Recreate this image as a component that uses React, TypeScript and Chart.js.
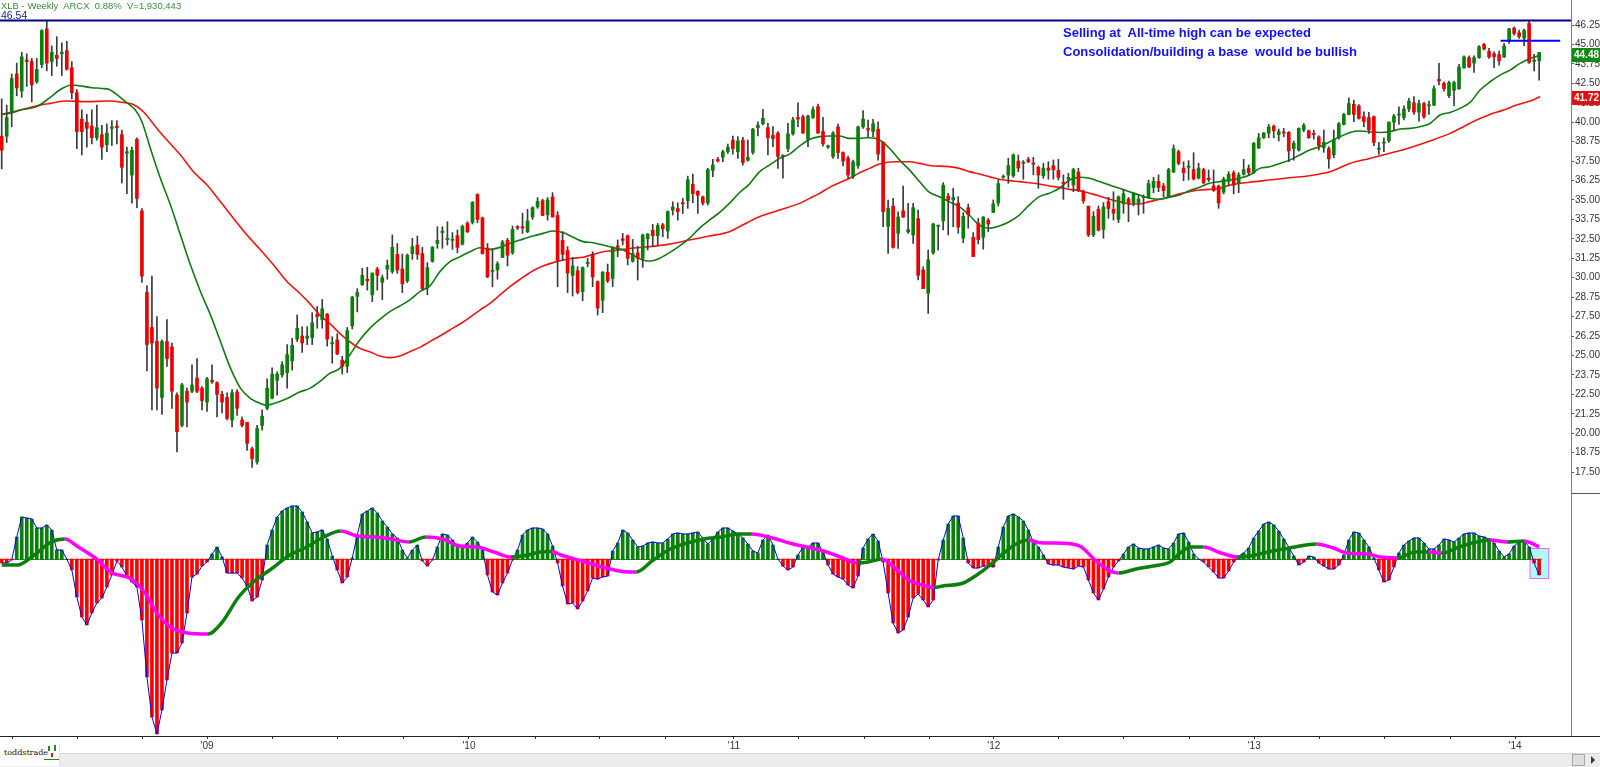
import React, { useEffect, useRef } from 'react';
import { Chart, registerables } from 'chart.js';

Chart.register(...registerables);

// ---------- Weekly OHLC (one entry per week, oldest first) ----------
const OPEN = [
  39.1, 39.1, 40.7, 43.1, 42.0, 44.0, 43.9, 42.6, 43.7, 46.0,
  43.9, 44.3, 44.4, 44.6, 43.5, 41.9, 40.2, 40.0, 39.75, 39.0,
  39.2, 38.55, 39.6, 39.75, 39.2, 38.0, 36.6, 38.9, 34.3, 29.05,
  26.8, 25.9, 22.3, 25.9, 25.55, 22.45, 20.5, 22.7, 22.7, 23.55,
  22.9, 22.0, 23.4, 23.25, 22.5, 22.3, 20.85, 22.65, 20.85, 20.7,
  19.0, 18.15, 20.5, 21.6, 22.25, 23.4, 23.75, 23.9, 24.65, 26.05,
  26.25, 26.1, 26.15, 27.65, 27.3, 27.65, 25.75, 26.0, 24.7, 24.3,
  26.9, 28.8, 29.55, 29.9, 28.9, 30.55, 29.7, 30.55, 30.4, 31.5,
  30.55, 29.8, 31.55, 32.1, 31.55, 29.35, 31.05, 32.2, 32.9, 32.45,
  32.4, 32.7, 32.15, 33.5, 33.55, 35.35, 33.85, 31.9, 30.4, 30.5,
  31.3, 32.4, 31.6, 33.25, 33.25, 32.95, 33.9, 34.55, 34.95, 34.05,
  35.2, 34.0, 32.4, 31.75, 30.15, 30.45, 29.1, 30.9, 31.45, 29.75,
  28.55, 30.35, 29.95, 32.05, 32.5, 32.7, 31.05, 31.6, 31.25, 32.5,
  33.05, 32.7, 33.4, 33.0, 34.35, 34.45, 34.8, 34.95, 36.0, 35.55,
  35.2, 34.8, 36.9, 37.6, 37.75, 38.1, 38.85, 38.1, 38.85, 37.55,
  38.05, 39.65, 39.9, 39.65, 39.15, 39.3, 37.8, 38.3, 39.25, 40.3,
  40.35, 38.9, 40.3, 41.0, 39.4, 38.4, 37.8, 39.7, 38.05, 37.7,
  36.5, 37.2, 39.7, 39.6, 39.4, 39.55, 38.7, 33.3, 34.6, 32.85,
  34.3, 32.95, 32.75, 33.8, 30.5, 29.0, 31.6, 33.3, 33.65, 35.25,
  35.0, 34.8, 32.55, 34.5, 32.6, 33.5, 32.6, 33.7, 34.2, 34.8,
  36.45, 36.6, 36.55, 37.5, 37.35, 37.6, 37.35, 37.1, 36.55, 37.05,
  37.2, 36.9, 36.1, 36.35, 35.95, 36.8, 35.55, 34.6, 32.75, 34.4,
  33.1, 34.9, 34.4, 33.75, 34.75, 35.05, 34.8, 34.8, 35.15, 35.15,
  35.8, 36.2, 35.9, 35.2, 36.8, 38.1, 37.05, 37.1, 36.95, 36.4,
  36.95, 36.4, 35.9, 35.9, 35.5, 36.2, 36.75, 36.05, 36.65, 37.05,
  36.75, 38.35, 39.0, 39.3, 39.75, 39.2, 39.35, 39.35, 38.3, 38.2,
  39.5, 39.45, 39.25, 39.05, 38.35, 38.3, 37.9, 39.0, 39.85, 40.5,
  41.15, 41.05, 40.35, 40.3, 40.35, 38.25, 38.65, 38.8, 40.0, 40.45,
  40.3, 40.85, 41.25, 40.65, 41.2, 41.05, 41.1, 42.75, 42.5, 41.7,
  42.05, 42.15, 43.5, 44.15, 43.8, 44.15, 45.0, 44.55, 44.4, 44.35,
  44.2, 45.2, 46.05, 45.75, 45.4, 46.35, 43.9, 43.95,
];
const HIGH = [
  41.5, 41.1, 43.1, 43.8, 44.5, 44.4, 44.1, 44.1, 45.95, 46.5,
  44.9, 45.5, 45.1, 45.2, 43.9, 42.1, 40.8, 40.5, 40.8, 41.1,
  39.8, 39.9, 40.1, 40.1, 39.5, 38.4, 38.4, 39.0, 34.45, 29.5,
  30.1, 27.5, 26.0, 27.3, 25.8, 22.6, 23.2, 22.9, 24.4, 24.8,
  23.0, 23.6, 24.4, 23.3, 22.7, 22.6, 22.8, 22.8, 21.05, 20.7,
  19.1, 20.5, 21.5, 23.5, 24.2, 23.95, 24.6, 25.7, 26.1, 27.6,
  26.85, 26.85, 27.75, 28.15, 28.6, 27.7, 26.2, 26.4, 24.95, 26.8,
  28.8, 29.3, 30.6, 30.67, 30.3, 30.67, 30.17, 31.14, 32.75, 32.2,
  31.52, 31.52, 32.53, 32.68, 31.95, 30.97, 32.0, 33.28, 33.28, 33.6,
  32.9, 33.07, 33.39, 33.6, 34.9, 35.4, 33.9, 32.2, 31.82, 31.03,
  32.4, 32.53, 33.32, 33.35, 34.15, 34.4, 34.57, 35.15, 35.04, 35.15,
  35.47, 34.25, 32.96, 32.0, 31.31, 30.71, 30.7, 31.24, 31.67, 29.8,
  30.4, 30.88, 32.0, 32.43, 32.85, 32.75, 32.46, 32.03, 32.8, 32.85,
  33.43, 33.49, 33.49, 34.3, 34.88, 34.82, 35.1, 36.53, 36.66, 35.6,
  35.25, 37.03, 37.61, 37.74, 38.21, 38.59, 39.11, 39.07, 39.02, 38.85,
  39.6, 40.03, 40.82, 39.92, 39.71, 39.39, 37.9, 39.92, 40.31, 41.25,
  40.46, 40.46, 40.99, 41.17, 40.31, 38.53, 39.39, 39.88, 38.1, 37.82,
  37.56, 39.75, 40.74, 40.14, 40.18, 40.03, 38.74, 34.99, 35.1, 34.24,
  35.89, 34.78, 34.78, 34.35, 30.7, 31.78, 33.5, 33.39, 36.11, 35.43,
  35.75, 35.21, 34.18, 34.74, 32.9, 33.82, 33.93, 33.82, 35.0, 36.28,
  36.61, 37.68, 37.96, 37.89, 37.53, 37.74, 37.74, 37.19, 37.36, 37.46,
  37.57, 37.61, 36.61, 36.71, 37.04, 37.04, 35.64, 34.61, 34.25, 34.61,
  34.83, 35.17, 35.53, 35.26, 35.68, 35.17, 35.45, 35.32, 35.32, 36.28,
  36.46, 36.61, 36.07, 37.04, 38.54, 38.21, 37.46, 37.53, 38.04, 37.36,
  37.04, 36.93, 36.93, 35.96, 36.46, 36.82, 36.88, 36.76, 37.61, 37.25,
  38.7, 39.28, 39.34, 39.86, 39.82, 39.56, 39.6, 39.4, 38.79, 39.64,
  39.92, 39.49, 39.49, 39.13, 39.49, 38.42, 39.49, 39.99, 40.57, 41.57,
  41.42, 41.14, 40.67, 40.63, 40.41, 38.7, 39.0, 40.03, 40.5, 40.99,
  41.06, 41.53, 41.64, 41.42, 41.27, 41.36, 42.34, 43.78, 42.6, 42.64,
  42.64, 43.72, 44.27, 44.27, 44.27, 44.92, 45.07, 44.75, 44.53, 44.57,
  45.07, 46.03, 46.14, 45.92, 45.99, 46.54, 44.36, 44.49,
];
const LOW = [
  37.0, 38.7, 39.7, 41.7, 41.6, 42.3, 41.3, 42.5, 43.5, 43.3,
  43.0, 43.6, 43.0, 43.35, 41.5, 38.3, 37.9, 38.4, 38.6, 38.85,
  37.6, 38.1, 38.5, 38.6, 36.1, 35.4, 34.8, 34.5, 29.7, 24.0,
  21.5, 21.5, 21.2, 24.3, 21.6, 18.8, 20.4, 20.4, 22.6, 22.6,
  21.5, 21.4, 23.2, 21.05, 21.3, 20.85, 20.4, 21.15, 20.4, 18.9,
  17.8, 18.0, 20.2, 21.5, 22.2, 22.45, 23.6, 22.9, 24.05, 25.9,
  25.2, 25.7, 25.7, 26.75, 26.75, 25.6, 24.5, 25.05, 23.8, 23.9,
  26.7, 27.8, 29.5, 29.2, 28.46, 29.2, 28.6, 29.9, 30.28, 30.28,
  29.04, 29.68, 31.18, 31.18, 29.17, 28.9, 31.0, 31.89, 31.89, 32.1,
  31.82, 31.6, 32.1, 32.9, 33.45, 33.54, 31.52, 30.0, 29.42, 29.9,
  31.3, 30.75, 31.5, 33.1, 32.85, 32.9, 33.75, 34.46, 34.0, 33.7,
  33.9, 29.42, 31.1, 29.04, 28.82, 28.95, 28.52, 30.7, 29.42, 27.6,
  27.75, 29.68, 29.42, 31.35, 32.1, 30.82, 31.0, 29.85, 30.66, 31.78,
  31.99, 32.1, 32.63, 32.53, 34.03, 33.7, 34.13, 34.46, 34.82, 34.13,
  34.67, 34.67, 36.49, 37.45, 37.46, 37.99, 37.95, 37.67, 37.24, 37.5,
  37.95, 39.11, 39.82, 37.89, 38.42, 37.03, 36.4, 38.1, 39.17, 39.71,
  39.28, 38.42, 40.24, 39.28, 38.46, 38.31, 37.67, 37.67, 37.18, 36.39,
  36.39, 37.03, 39.6, 39.07, 39.07, 37.56, 33.28, 31.56, 31.9, 31.88,
  33.88, 32.85, 32.2, 29.85, 29.3, 27.7, 31.5, 31.78, 33.07, 32.75,
  33.28, 32.85, 32.25, 33.18, 31.35, 32.17, 31.83, 32.96, 34.18, 34.61,
  36.39, 36.07, 36.46, 36.82, 36.33, 37.4, 36.61, 35.75, 36.39, 36.33,
  36.33, 36.28, 35.04, 35.81, 35.53, 35.53, 34.78, 32.64, 32.64, 33.0,
  32.53, 33.82, 33.71, 33.54, 34.14, 33.6, 34.61, 34.03, 34.14, 35.11,
  35.47, 35.53, 35.21, 35.17, 36.75, 37.25, 36.24, 36.28, 36.28, 36.35,
  36.03, 36.18, 35.55, 34.46, 35.39, 35.9, 35.39, 35.47, 36.6, 36.61,
  36.7, 38.3, 38.95, 39.0, 39.0, 38.79, 39.06, 37.46, 37.56, 38.14,
  39.39, 38.96, 38.91, 38.21, 38.06, 37.03, 37.71, 38.91, 39.82, 40.46,
  40.03, 40.2, 39.71, 39.28, 38.49, 37.93, 38.1, 38.7, 39.49, 39.86,
  40.14, 40.67, 40.5, 40.07, 40.24, 40.5, 41.06, 42.39, 42.0, 41.57,
  41.06, 42.1, 43.46, 43.5, 43.2, 44.1, 44.64, 44.1, 43.5, 43.67,
  44.15, 45.07, 45.6, 45.39, 44.92, 43.78, 43.29, 42.71,
];
const CLOSE = [
  38.2, 40.3, 42.8, 42.2, 44.2, 43.9, 42.4, 43.4, 45.9, 43.8,
  44.5, 44.1, 44.5, 43.4, 41.9, 39.4, 39.4, 39.6, 39.0, 39.65,
  38.4, 39.3, 39.7, 39.65, 37.1, 38.1, 38.2, 35.1, 30.1, 25.7,
  25.8, 22.9, 25.9, 24.8, 22.7, 20.1, 23.1, 22.0, 23.1, 22.7,
  22.1, 23.5, 23.3, 22.5, 22.0, 20.95, 22.6, 21.6, 20.5, 19.35,
  18.35, 20.3, 21.1, 22.9, 23.8, 23.8, 24.4, 25.05, 25.65, 26.75,
  25.8, 26.25, 27.1, 27.5, 28.0, 26.05, 25.8, 25.1, 24.3, 26.6,
  28.75, 29.05, 30.15, 29.8, 30.3, 30.15, 30.0, 30.8, 31.95, 30.5,
  29.6, 31.45, 32.0, 31.5, 29.3, 30.65, 31.95, 32.4, 33.0, 32.5,
  32.45, 31.95, 33.3, 32.95, 34.85, 33.75, 31.55, 30.05, 30.45, 30.9,
  32.3, 31.45, 33.1, 33.2, 33.2, 33.65, 34.5, 34.9, 34.0, 35.0,
  33.9, 31.1, 31.5, 30.3, 30.75, 29.05, 30.65, 30.95, 30.05, 28.05,
  30.35, 29.8, 31.95, 31.95, 32.4, 31.25, 31.55, 31.25, 32.75, 32.8,
  32.7, 33.35, 33.15, 34.25, 34.55, 34.25, 34.75, 36.3, 35.4, 35.3,
  34.8, 36.95, 37.25, 37.5, 38.1, 38.4, 38.3, 38.8, 37.4, 37.75,
  39.55, 39.8, 40.25, 39.0, 38.95, 37.8, 37.85, 39.25, 40.15, 40.2,
  39.3, 40.4, 40.8, 39.3, 38.6, 38.45, 39.3, 38.05, 37.5, 36.6,
  37.45, 39.7, 40.2, 39.5, 39.9, 37.95, 34.25, 34.45, 31.95, 33.9,
  33.9, 33.1, 34.5, 30.15, 29.3, 31.15, 33.45, 33.35, 35.95, 35.0,
  35.15, 33.25, 33.95, 34.05, 31.35, 32.45, 33.9, 33.45, 34.75, 36.05,
  36.5, 37.2, 37.9, 37.05, 37.4, 37.45, 37.3, 36.6, 37.05, 36.9,
  36.95, 36.45, 36.05, 36.45, 36.95, 35.6, 34.95, 32.75, 33.95, 33.05,
  34.55, 34.45, 34.15, 35.2, 35.4, 34.75, 35.4, 35.05, 35.2, 36.05,
  36.2, 35.8, 35.6, 36.95, 38.3, 37.35, 36.75, 37.15, 36.35, 37.05,
  36.1, 36.3, 35.6, 34.8, 36.35, 36.65, 35.95, 36.6, 36.95, 36.75,
  38.65, 39.0, 39.3, 39.7, 39.45, 39.4, 39.3, 38.15, 38.65, 39.6,
  39.8, 39.0, 39.2, 38.5, 38.7, 37.65, 38.9, 39.9, 40.5, 41.2,
  40.5, 40.25, 40.05, 39.5, 38.7, 38.3, 38.7, 40.0, 40.4, 40.5,
  40.85, 41.35, 40.65, 41.2, 40.35, 41.1, 42.15, 42.65, 42.15, 42.55,
  42.55, 43.55, 44.2, 43.55, 44.15, 44.85, 44.7, 44.2, 44.2, 43.95,
  44.9, 46.0, 45.7, 45.5, 45.9, 43.85, 44.0, 44.48,
];

// ---------- Moving averages: [week index, price] ----------
const MA_FAST = [
  [0, 40.5], [2, 40.6], [4, 40.8], [7, 41.0], [9.7, 41.6], [11.7, 42.1], [14, 42.39], [16, 42.32],
  [18, 42.22], [20, 42.17], [21.5, 42.1], [22.7, 41.85], [24.7, 41.32], [26.7, 40.78], [28, 40.03],
  [29.7, 38.31], [31.7, 36.38], [33.7, 34.67], [35.7, 32.74], [37.7, 30.81], [39.7, 29.1], [41.7, 27.59],
  [43.7, 25.88], [45.7, 24.17], [47.7, 22.88], [49.7, 22.23], [51.7, 21.91], [53, 21.8], [55, 21.98],
  [57, 22.23], [59.6, 22.66], [61.5, 22.88], [63.5, 23.31], [65.5, 23.85], [67.5, 24.17], [69.5, 25.03],
  [71.5, 25.99], [73.5, 26.74], [75.5, 27.32], [77.5, 27.82], [79.5, 28.18], [81.5, 28.57], [83.5, 29.1],
  [85.5, 29.47], [87.5, 30.39], [89.5, 31.03], [91.5, 31.35], [93.5, 31.67], [95.5, 31.93], [97.5, 31.82],
  [99.5, 31.95], [101.5, 32.21], [103.5, 32.42], [106.1, 32.68], [108.1, 32.85], [110.1, 33.0], [112.1, 32.9],
  [114.1, 32.6], [116.1, 32.32], [118.1, 32.25], [120.1, 32.1], [122.1, 31.93], [124, 31.8], [125.5, 31.55],
  [127.3, 31.24], [129.3, 31.07], [131.3, 31.24], [133.3, 31.6], [135.3, 32.03], [137.3, 32.53], [139.3, 33.17],
  [141.3, 33.7], [143.3, 34.18], [145.3, 34.78], [147.3, 35.46], [149.3, 36.02], [151.3, 36.81], [153.3, 37.24],
  [155.3, 37.67], [157.3, 37.95], [159.3, 38.46], [161.3, 38.89], [163.3, 39.07], [165.3, 39.11], [167.3, 39.11],
  [169.3, 38.96], [171.3, 38.96], [173.3, 39.0], [175.3, 38.85], [177.3, 38.31], [179.3, 37.56], [181.3, 36.92],
  [183.3, 36.17], [185.2, 35.5], [187.2, 35.21], [189.2, 34.89], [191.2, 34.57], [193.2, 34.03], [195.2, 33.39],
  [197.2, 33.18], [199.2, 33.33], [201.2, 33.6], [203.2, 34.03], [205.2, 34.68], [207.2, 35.21], [209.2, 35.43],
  [211.2, 35.75], [213.2, 36.28], [215.2, 36.46], [217.2, 36.39], [219.2, 36.18], [221.2, 35.96], [223.2, 35.75],
  [225.2, 35.53], [227.2, 35.32], [229.2, 35.11], [231.2, 35.04], [233.2, 35.17], [235.2, 35.32], [237.2, 35.6],
  [239.2, 35.81], [241.2, 36.07], [243.2, 36.18], [245.2, 36.28], [247.2, 36.4], [249.2, 36.6], [251.2, 37.03],
  [253.2, 37.13], [255.2, 37.35], [257.2, 37.56], [259.2, 37.89], [261.2, 38.21], [263.2, 38.42], [265.2, 38.74],
  [267.2, 39.06], [269.2, 39.34], [271.2, 39.43], [273.2, 39.39], [275.2, 39.34], [277.2, 39.39], [279.2, 39.56],
  [281.2, 39.6], [283.2, 39.71], [285.2, 39.92], [287.2, 40.46], [289.2, 40.63], [291.2, 40.89], [293.2, 41.27],
  [295.2, 42.07], [297.2, 42.6], [299.2, 43.03], [301.2, 43.35], [303.2, 43.78], [305.2, 44.1], [307, 44.28],
];
const MA_SLOW = [
  [0, 40.5], [3.7, 40.78], [7, 41.06], [9.7, 41.21], [13, 41.36], [17, 41.32], [21, 41.36], [24.3, 41.27],
  [26.3, 41.14], [28.3, 40.67], [31, 39.6], [33, 38.85], [35.7, 37.89], [38.3, 36.81], [41, 35.96], [43.7, 34.88],
  [46.3, 33.81], [49, 32.74], [51.7, 31.78], [54.3, 30.81], [57, 29.74], [59.5, 29.0], [61.5, 28.35], [63.5, 27.6],
  [65.5, 27.06], [67.5, 26.42], [69.5, 25.88], [71.5, 25.46], [73.5, 25.24], [75.5, 24.96], [77.5, 24.86],
  [79.5, 24.96], [81.5, 25.24], [83.5, 25.52], [85.5, 25.89], [87.5, 26.25], [89.5, 26.64], [91.5, 27.02],
  [93.5, 27.45], [95.5, 27.92], [97.5, 28.35], [99.5, 28.89], [101.5, 29.42], [103.5, 29.9], [106.1, 30.45],
  [108.1, 30.75], [110.1, 30.97], [112.1, 31.14], [114.1, 31.25], [116.1, 31.31], [118.1, 31.5], [120.1, 31.67],
  [122.1, 31.74], [124.1, 31.82], [125.3, 31.88], [129.3, 31.99], [133.3, 32.16], [137.3, 32.42], [141.3, 32.68],
  [145.3, 32.96], [147.3, 33.28], [151.3, 33.92], [155.3, 34.35], [159.3, 34.78], [161.3, 35.1], [163.3, 35.42],
  [165.3, 35.81], [167.3, 36.11], [169.3, 36.39], [171.3, 36.75], [173.3, 37.03], [175.3, 37.31], [177.3, 37.44],
  [179.3, 37.46], [181.3, 37.46], [183.3, 37.35], [185.3, 37.22], [189.2, 37.14], [191.2, 37.03], [193.2, 36.82],
  [195.2, 36.67], [197.2, 36.5], [199.2, 36.33], [201.2, 36.24], [203.2, 36.18], [205.2, 36.11], [207.2, 36.03],
  [209.2, 35.9], [211.2, 35.81], [213.2, 35.68], [215.2, 35.6], [217.2, 35.43], [219.2, 35.26], [221.2, 35.04],
  [223.2, 34.89], [225.2, 34.74], [227.2, 34.74], [229.2, 34.89], [231.2, 35.04], [233.2, 35.21], [235.2, 35.39],
  [237.2, 35.53], [239.2, 35.64], [241.2, 35.68], [243.2, 35.75], [245.2, 35.95], [249.2, 36.14], [253.2, 36.28],
  [257.2, 36.43], [261.2, 36.56], [265.2, 36.81], [267.2, 37.07], [269.2, 37.35], [273.2, 37.67], [277.2, 38.0],
  [281.2, 38.36], [285.2, 38.79], [289.2, 39.28], [291.9, 39.71], [294.5, 40.14], [297.2, 40.5], [299.9, 40.78],
  [302.5, 41.1], [305.2, 41.36], [307.2, 41.64],
];

// ---------- Oscillator (lower pane): histogram per week, signal line [week, value] ----------
const HIST = [
  -0.04, -0.04, -0.01, 0.22, 0.42, 0.41, 0.40, 0.31, 0.31, 0.34,
  0.29, 0.09, 0.09, 0.0, -0.11, -0.38, -0.58, -0.66, -0.54, -0.44,
  -0.39, -0.28, -0.16, -0.02, -0.08, -0.17, -0.23, -0.28, -0.61, -1.18,
  -1.58, -1.75, -1.51, -1.21, -0.94, -0.94, -0.84, -0.54, -0.18, -0.15,
  -0.07, -0.03, 0.05, 0.12, 0.02, -0.14, -0.14, -0.14, -0.19, -0.27,
  -0.42, -0.38, -0.21, 0.14, 0.29, 0.42, 0.48, 0.51, 0.53, 0.53,
  0.47, 0.37, 0.26, 0.27, 0.29, 0.20, 0.03, -0.11, -0.24, -0.18,
  0.01, 0.24, 0.45, 0.48, 0.51, 0.46, 0.38, 0.32, 0.25, 0.21,
  0.09, 0.01, 0.09, 0.14, -0.02, -0.07, -0.01, 0.12, 0.25, 0.24,
  0.19, 0.13, 0.12, 0.16, 0.22, 0.17, 0.09, -0.16, -0.33, -0.36,
  -0.24, -0.14, -0.01, 0.09, 0.24, 0.29, 0.31, 0.31, 0.30, 0.25,
  0.13, -0.04, -0.27, -0.45, -0.44, -0.50, -0.42, -0.32, -0.19, -0.20,
  -0.18, -0.17, 0.08, 0.16, 0.29, 0.26, 0.19, 0.12, 0.13, 0.16,
  0.17, 0.16, 0.16, 0.20, 0.25, 0.26, 0.25, 0.25, 0.26, 0.27,
  0.21, 0.15, 0.20, 0.27, 0.31, 0.31, 0.28, 0.25, 0.21, 0.15,
  0.08, 0.06, 0.19, 0.24, 0.14, 0.0, -0.07, -0.11, -0.08, 0.04,
  0.12, 0.12, 0.16, 0.16, 0.07, -0.06, -0.15, -0.18, -0.20, -0.26,
  -0.29, -0.17, 0.11, 0.20, 0.25, 0.18, -0.03, -0.34, -0.64, -0.74,
  -0.71, -0.58, -0.39, -0.35, -0.41, -0.48, -0.41, -0.01, 0.19, 0.35,
  0.43, 0.43, 0.21, -0.04, -0.09, -0.09, -0.07, -0.07, -0.08, 0.12,
  0.32, 0.43, 0.45, 0.42, 0.38, 0.29, 0.17, 0.12, 0.04, -0.05,
  -0.06, -0.06, -0.08, -0.09, -0.10, -0.07, -0.08, -0.21, -0.34, -0.41,
  -0.30, -0.18, -0.08, -0.02, 0.05, 0.12, 0.15, 0.11, 0.10, 0.10,
  0.12, 0.14, 0.11, 0.10, 0.16, 0.25, 0.26, 0.17, 0.05, 0.0,
  -0.03, -0.08, -0.13, -0.19, -0.19, -0.12, -0.03, 0.03, 0.06, 0.11,
  0.21, 0.28, 0.35, 0.37, 0.34, 0.28, 0.20, 0.12, 0.03, -0.06,
  -0.03, 0.03, 0.02, -0.04, -0.07, -0.10, -0.10, -0.06, 0.04, 0.19,
  0.27, 0.26, 0.19, 0.12, 0.01, -0.11, -0.23, -0.21, -0.08, 0.06,
  0.14, 0.18, 0.21, 0.21, 0.16, 0.10, 0.10, 0.14, 0.20, 0.19,
  0.17, 0.21, 0.25, 0.26, 0.26, 0.23, 0.22, 0.20, 0.16, 0.08,
  0.02, 0.05, 0.13, 0.17, 0.18, 0.12, -0.04, -0.16,
];
const SIGNAL = [
  [0, -0.06], [3.1, -0.06], [6.5, 0.04], [9.9, 0.17], [12.6, 0.2], [15.3, 0.12], [18.7, 0.01], [22.1, -0.14],
  [25.5, -0.19], [28.2, -0.31], [31, -0.54], [33.7, -0.68], [37.1, -0.74], [41.2, -0.75], [43.9, -0.64],
  [47.3, -0.38], [50, -0.24], [54.1, -0.09], [57.5, 0.04], [60.9, 0.12], [64.3, 0.22], [67.7, 0.28],
  [71.1, 0.23], [74.5, 0.22], [77.9, 0.2], [81.3, 0.17], [84.7, 0.22], [88.1, 0.2], [91.5, 0.13], [94.9, 0.12],
  [98.3, 0.07], [101.7, 0.02], [105.1, 0.04], [107.5, 0.07], [109.8, 0.075], [111.7, 0.04], [116.5, -0.03],
  [119.9, -0.08], [123.9, -0.125], [126.7, -0.13], [130.1, -0.01], [133.5, 0.1], [136.9, 0.16], [140.3, 0.2],
  [143.7, 0.22], [147.1, 0.25], [149.8, 0.25], [153.9, 0.21], [157.3, 0.16], [160.7, 0.12], [164.1, 0.08],
  [167.5, 0.02], [170.9, -0.04], [173, -0.03], [175.7, 0.0], [178.4, -0.09], [181.1, -0.21], [184.5, -0.27],
  [186.2, -0.285], [187.9, -0.27], [192, -0.24], [194.7, -0.16], [197.4, -0.06], [200.1, 0.06], [202.9, 0.16],
  [205, 0.19], [207, 0.165], [209.7, 0.16], [212.9, 0.155], [215.6, 0.12], [218.3, -0.01], [221, -0.11],
  [223, -0.14], [226.5, -0.1], [229.9, -0.07], [233.3, -0.03], [235.3, 0.06], [237.4, 0.12], [240, 0.12],
  [243.5, 0.06], [246.9, 0.02], [250.3, 0.04], [253.7, 0.08], [257.1, 0.11], [260.5, 0.14], [262.5, 0.15],
  [265.9, 0.11], [268.6, 0.06], [272.7, 0.05], [275.4, 0.02], [278.8, 0.01], [282.2, 0.07], [284.9, 0.07],
  [287.6, 0.06], [291, 0.12], [294.5, 0.17], [297.2, 0.19], [300.6, 0.17], [304, 0.18], [305.4, 0.16], [307, 0.12],
];

// ---------- Axis labels and annotation values ----------
const PRICE_TICKS = [
  17.5, 18.75, 20.0, 21.25, 22.5, 23.75, 25.0, 26.25, 27.5, 28.75, 30.0, 31.25,
  32.5, 33.75, 35.0, 36.25, 37.5, 38.75, 40.0, 41.25, 42.5, 43.75, 45.0, 46.25,
];
const YEAR_LABELS = ["'09", "'10", "'11", "'12", "'13", "'14"];
const YEAR_WEEKS = [41.0, 93.3, 146.2, 198.1, 250.1, 302.2];
const QUARTER_WEEKS = [
  2.2, 15.2, 28.2, 54.1, 67.1, 80.2, 106.5, 119.4, 132.5, 159.2, 172.2, 185.2,
  211.1, 224.1, 237.1, 263.1, 276.1, 289.2,
];
const ALL_TIME_HIGH = 46.54;
const BREAK_LEVEL = 45.24;
const BREAK_FROM = 299.3;
const BREAK_TO = 311.2;
const LAST_CLOSE = 44.48;
const LAST_SLOW_MA = 41.72;
const HIGHLIGHT_WEEKS = [305.1, 309.0];
const HIGHLIGHT_VALUES = [0.11, -0.2];

const HEADER = 'XLB - Weekly  ARCX  0.88%  V=1,930,443';
const NOTE_1 = 'Selling at  All-time high can be expected';
const NOTE_2 = 'Consolidation/building a base  would be bullish';

// ---------- Layout constants ----------
const X_MIN = -0.34;
const X_MAX = 313.36;
const P_MIN = 16.154;
const P_MAX = 47.858;
const O_MIN = -1.77;
const O_MAX = 0.66;

const GREEN = '#0a800a';
const RED = '#ee0000';
const FONT = 'Arial, "Liberation Sans", sans-serif';

const overlayPlugin = {
  id: 'overlay',
  beforeDatasetsDraw(chart: any) {
    const { ctx } = chart;
    const xs = chart.scales.x;
    const ys = chart.scales.y2;
    ctx.save();
    const l = xs.getPixelForValue(HIGHLIGHT_WEEKS[0]);
    const r = xs.getPixelForValue(HIGHLIGHT_WEEKS[1]);
    const t = ys.getPixelForValue(HIGHLIGHT_VALUES[0]);
    const b = ys.getPixelForValue(HIGHLIGHT_VALUES[1]);
    ctx.fillStyle = '#aaffff';
    ctx.fillRect(l, t, r - l, b - t);
    ctx.strokeStyle = '#ff66ff';
    ctx.lineWidth = 1;
    ctx.strokeRect(l + 0.5, t + 0.5, r - l - 1, b - t - 1);
    const y0 = Math.round(ys.getPixelForValue(0)) + 0.5;
    HIST.forEach((v, i) => {
      ctx.strokeStyle = v >= 0 ? GREEN : '#ff0000';
      ctx.beginPath();
      ctx.moveTo(xs.getPixelForValue(i - 0.5), y0);
      ctx.lineTo(xs.getPixelForValue(i + 0.5), y0);
      ctx.stroke();
    });
    ctx.restore();
  },
  afterDraw(chart: any) {
    const { ctx, chartArea, width } = chart;
    const xs = chart.scales.x;
    const yp = chart.scales.y;
    const yo = chart.scales.y2;
    ctx.save();
    ctx.lineWidth = 1;
    ctx.strokeStyle = '#222';
    ctx.beginPath();
    ctx.moveTo(0, Math.round(xs.top) + 0.5);
    ctx.lineTo(width, Math.round(xs.top) + 0.5);
    ctx.stroke();
    ctx.strokeStyle = '#555';
    ctx.beginPath();
    ctx.moveTo(chartArea.right, Math.round(yo.top) + 0.5);
    ctx.lineTo(width, Math.round(yo.top) + 0.5);
    ctx.stroke();
    const tag = (value: number, color: string) => {
      const cy = yp.getPixelForValue(value) + 2.5;
      const left = chartArea.right + 1;
      ctx.fillStyle = color;
      ctx.fillRect(left, cy - 7, width - left, 14);
      ctx.fillStyle = '#ffffff';
      ctx.font = `bold 10px ${FONT}`;
      ctx.textBaseline = 'middle';
      ctx.textAlign = 'left';
      ctx.fillText(value.toFixed(2), left + 2, cy + 0.5);
    };
    tag(LAST_CLOSE, '#118811');
    tag(LAST_SLOW_MA, '#e01010');
    ctx.restore();
  },
};

export default function App() {
  const ref = useRef<HTMLCanvasElement>(null);

  useEffect(() => {
    const idx = CLOSE.map((_, i) => i);
    const bodies = idx.map((i) => ({ x: i, y: [OPEN[i], CLOSE[i]] }));
    const wicks = idx.map((i) => ({ x: i, y: [LOW[i], HIGH[i]] }));
    const hist = HIST.map((v, i) => ({ x: i, y: v }));
    const pairs = (arr: number[][]) => arr.map(([x, y]) => ({ x, y }));
    const tickLabel = (v: number) => {
      const k = YEAR_WEEKS.findIndex((w) => Math.abs(w - v) < 0.01);
      return k >= 0 ? YEAR_LABELS[k] : '';
    };

    const chart = new Chart(ref.current as HTMLCanvasElement, {
      type: 'bar',
      data: {
        datasets: [
          {
            type: 'line',
            data: [{ x: X_MIN, y: ALL_TIME_HIGH }, { x: X_MAX, y: ALL_TIME_HIGH }],
            borderColor: '#000080', borderWidth: 2, pointRadius: 0, yAxisID: 'y',
          },
          {
            type: 'line',
            data: [{ x: BREAK_FROM, y: BREAK_LEVEL }, { x: BREAK_TO, y: BREAK_LEVEL }],
            borderColor: '#0000ff', borderWidth: 2, pointRadius: 0, yAxisID: 'y',
          },
          {
            type: 'bar',
            data: bodies,
            backgroundColor: (c: any) => (c.raw && c.raw.y[1] >= c.raw.y[0] ? GREEN : RED),
            barThickness: 3, grouped: false, minBarLength: 1.2, yAxisID: 'y',
          },
          {
            type: 'bar',
            data: wicks,
            backgroundColor: '#3a3a3a', barThickness: 1, grouped: false, yAxisID: 'y',
          },
          {
            type: 'line', data: pairs(MA_FAST), borderColor: '#137a13', borderWidth: 1.6,
            pointRadius: 0, cubicInterpolationMode: 'monotone', yAxisID: 'y',
          },
          {
            type: 'line', data: pairs(MA_SLOW), borderColor: '#f01414', borderWidth: 1.6,
            pointRadius: 0, cubicInterpolationMode: 'monotone', yAxisID: 'y',
          },
          {
            type: 'line', data: pairs(SIGNAL), borderWidth: 3.5, pointRadius: 0,
            cubicInterpolationMode: 'monotone', yAxisID: 'y2', borderColor: GREEN,
            segment: {
              borderColor: (c: any) => (c.p1.parsed.y >= c.p0.parsed.y ? '#0a800a' : '#ff00ff'),
            },
          },
          {
            type: 'line', data: hist, borderColor: '#0000ff', borderWidth: 1, pointRadius: 0,
            tension: 0, yAxisID: 'y2',
          },
          {
            type: 'bar', data: hist,
            backgroundColor: (c: any) => (c.raw && c.raw.y >= 0 ? GREEN : '#ff0000'),
            barThickness: 3, grouped: false, yAxisID: 'y2',
          },
        ] as any,
      },
      options: {
        animation: false,
        responsive: false,
        events: [],
        layout: { padding: 0 },
        plugins: { legend: { display: false }, tooltip: { enabled: false } },
        scales: {
          x: {
            type: 'linear', position: 'bottom', min: X_MIN, max: X_MAX, offset: false,
            afterBuildTicks: (s: any) => {
              s.ticks = [...QUARTER_WEEKS, ...YEAR_WEEKS].sort((a, b) => a - b).map((v) => ({ value: v }));
            },
            ticks: {
              autoSkip: false, maxRotation: 0, minRotation: 0, padding: 1,
              color: '#333', font: { family: FONT, size: 10 },
              callback: (v: any) => tickLabel(Number(v)),
            },
            grid: { display: true, drawOnChartArea: false, drawTicks: true, tickLength: 3, color: '#333', offset: false },
            border: { display: false },
            afterFit: (s: any) => { s.height = 17; s.paddingLeft = 0; s.paddingRight = 0; },
          },
          y: {
            type: 'linear', position: 'right', stack: 'panes', stackWeight: 493,
            min: P_MIN, max: P_MAX,
            afterBuildTicks: (s: any) => { s.ticks = PRICE_TICKS.map((v) => ({ value: v })); },
            ticks: {
              autoSkip: false, padding: 1, color: '#333', font: { family: FONT, size: 10 },
              callback: (v: any) => Number(v).toFixed(2),
            },
            grid: { display: true, drawOnChartArea: false, drawTicks: true, tickLength: 3, color: '#555' },
            border: { display: true, color: '#808080' },
            afterFit: (s: any) => { s.width = 29; s.paddingTop = 0; s.paddingBottom = 0; },
          },
          y2: {
            type: 'linear', position: 'right', stack: 'panes', stackWeight: 243,
            min: O_MIN, max: O_MAX,
            ticks: { display: false },
            grid: { display: false },
            border: { display: true, color: '#808080' },
            afterFit: (s: any) => { s.width = 29; s.paddingTop = 0; s.paddingBottom = 0; },
          },
        },
      } as any,
      plugins: [overlayPlugin],
    });
    return () => chart.destroy();
  }, []);

  const abs = (o: any) => ({ position: 'absolute', ...o });

  return (
    <div style={{ position: 'fixed', left: 0, top: 0, width: 1600, height: 767, background: '#fff', overflow: 'hidden', fontFamily: FONT }}>
      <canvas ref={ref} width={1600} height={753} style={{ position: 'absolute', left: 0, top: 0, width: 1600, height: 753 }} />
      <div style={abs({ left: 1, top: 0, fontSize: 9.5, lineHeight: '11px', color: '#3c8c3c', whiteSpace: 'pre' })}>{HEADER}</div>
      <div style={abs({ left: 1, top: 9, fontSize: 10.5, lineHeight: '12px', color: '#1a1a8a' })}>{ALL_TIME_HIGH.toFixed(2)}</div>
      <div style={abs({ left: 1063, top: 25, fontSize: 13, lineHeight: '15px', fontWeight: 'bold', color: '#1010ff', whiteSpace: 'pre' })}>{NOTE_1}</div>
      <div style={abs({ left: 1063, top: 44, fontSize: 13, lineHeight: '15px', fontWeight: 'bold', color: '#1010ff', whiteSpace: 'pre' })}>{NOTE_2}</div>
      <div style={abs({ left: 0, top: 753, width: 1600, height: 14, background: '#ececec', borderTop: '1px solid #d6d6d6', boxSizing: 'border-box' })} />
      <div style={abs({ left: 1572, top: 754, width: 13, height: 12, background: '#dedede', border: '1px solid #a8a8a8', boxSizing: 'border-box' })} />
      <div style={abs({ left: 1591, top: 756, width: 0, height: 0, borderLeft: '4px solid #333', borderTop: '4px solid transparent', borderBottom: '4px solid transparent' })} />
      <div style={abs({ left: 0, top: 744, width: 60, height: 22, background: '#fff', borderRight: '1px solid #ddd', boxSizing: 'border-box' })}>
        <div style={abs({ left: 4, top: 4, fontFamily: '"DejaVu Serif", "Liberation Serif", serif', fontSize: 8, color: '#111', whiteSpace: 'pre' })}>toddstrade</div>
        <div style={abs({ left: 48, top: 2, width: 2, height: 5, background: '#1a8a1a' })} />
        <div style={abs({ left: 54, top: 1, width: 2, height: 6, background: '#1a8a1a' })} />
        <div style={abs({ left: 51, top: 9, width: 2, height: 4, background: '#e01010' })} />
        <div style={abs({ left: 44, top: 15, width: 15, height: 1, background: '#1a8a1a' })} />
      </div>
    </div>
  );
}
